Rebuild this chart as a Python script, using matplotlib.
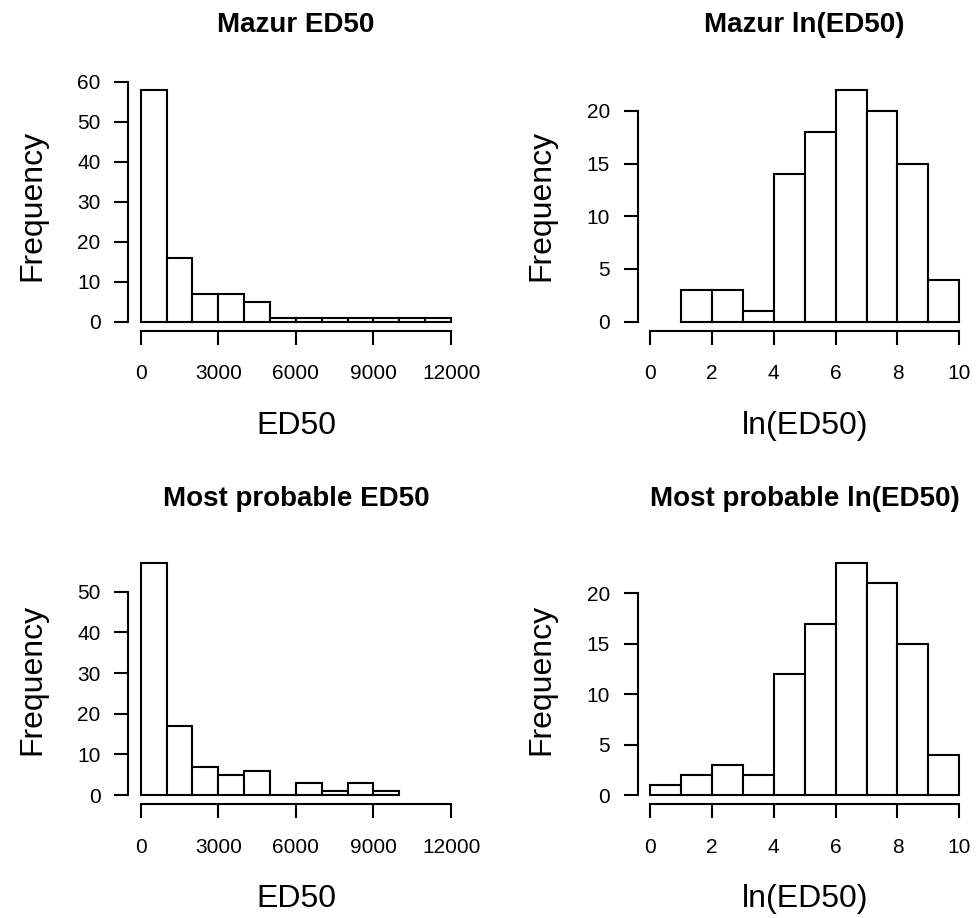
import matplotlib
matplotlib.use("Agg")
import matplotlib.pyplot as plt
import numpy as np

plt.rcParams['font.family'] = ['Liberation Sans', 'DejaVu Sans']

# histogram counts
mazur_edges = [0, 1000, 2000, 3000, 4000, 5000, 6000, 7000, 8000, 9000, 10000, 11000, 12000]
mazur_counts = [58, 16, 7, 7, 5, 1, 1, 1, 1, 1, 1, 1]

mp_edges = [0, 1000, 2000, 3000, 4000, 5000, 6000, 7000, 8000, 9000, 10000]
mp_counts = [57, 17, 7, 5, 6, 0, 3, 1, 3, 1]

mazur_ln_edges = [1, 2, 3, 4, 5, 6, 7, 8, 9, 10]
mazur_ln_counts = [3, 3, 1, 14, 18, 22, 20, 15, 4]

mp_ln_edges = [0, 1, 2, 3, 4, 5, 6, 7, 8, 9, 10]
mp_ln_counts = [1, 2, 3, 2, 12, 17, 23, 21, 15, 4]

titles = ["Mazur ED50", "Mazur ln(ED50)", "Most probable ED50", "Most probable ln(ED50)"]
xlabels = ["ED50", "ln(ED50)", "ED50", "ln(ED50)"]
ed_ticks = [0, 3000, 6000, 9000, 12000]
ln_ticks = [0, 2, 4, 6, 8, 10]

panels = [
    (mazur_edges, mazur_counts, (0, 12000), ed_ticks, 10),
    (mazur_ln_edges, mazur_ln_counts, (0, 10), ln_ticks, 5),
    (mp_edges, mp_counts, (0, 12000), ed_ticks, 10),
    (mp_ln_edges, mp_ln_counts, (0, 10), ln_ticks, 5),
]

fig = plt.figure(figsize=(9.77, 9.18), dpi=100)

W, H = 977.0, 918.0
boxes = [
    (128.3, 80.4, 463.5, 331.0),
    (637.6, 80.4, 971.7, 331.0),
    (128.3, 554.0, 463.5, 804.3),
    (637.6, 554.0, 971.7, 804.3),
]

lw = 1.5
for i, (edges, counts, xr, xt, ystep) in enumerate(panels):
    x0, y0, x1, y1 = boxes[i]
    ax = fig.add_axes([x0 / W, 1 - y1 / H, (x1 - x0) / W, (y1 - y0) / H])
    edges = np.array(edges, dtype=float)
    widths = np.diff(edges)
    ax.bar(edges[:-1], counts, width=widths, align='edge',
           color='white', edgecolor='black', linewidth=lw)

    # R-style 4% padding
    dx = (xr[1] - xr[0]) * 0.04
    ymax = max(counts)
    dy = ymax * 0.04
    ax.set_xlim(xr[0] - dx, xr[1] + dx)
    ax.set_ylim(-dy, ymax + dy)

    yt = np.arange(0, ymax + dy + 1e-9, ystep)
    ax.set_xticks(xt)
    ax.set_yticks(yt)
    ax.set_xticklabels([str(v) for v in xt])
    ax.set_yticklabels([str(int(v)) for v in yt])

    for s in ['top', 'right']:
        ax.spines[s].set_visible(False)
    ax.spines['left'].set_bounds(yt[0], yt[-1])
    ax.spines['bottom'].set_bounds(xt[0], xt[-1])
    for s in ['left', 'bottom']:
        ax.spines[s].set_linewidth(lw)
    ax.tick_params(axis='both', direction='out', length=10, width=lw,
                   labelsize=15, colors='black')
    ax.tick_params(axis='x', pad=14)
    ax.tick_params(axis='y', pad=10)

    h = y1 - y0
    w = x1 - x0
    ax.text(0.5, 1 + 55 / h, titles[i], transform=ax.transAxes,
            ha='center', va='center', fontsize=20, fontweight='bold')
    ax.text(0.5, -95 / h, xlabels[i], transform=ax.transAxes,
            ha='center', va='center', fontsize=23)
    ax.text(-96 / w, 0.5, "Frequency", transform=ax.transAxes,
            ha='center', va='center', rotation=90, fontsize=23)

fig.savefig("out.png", dpi=100)
